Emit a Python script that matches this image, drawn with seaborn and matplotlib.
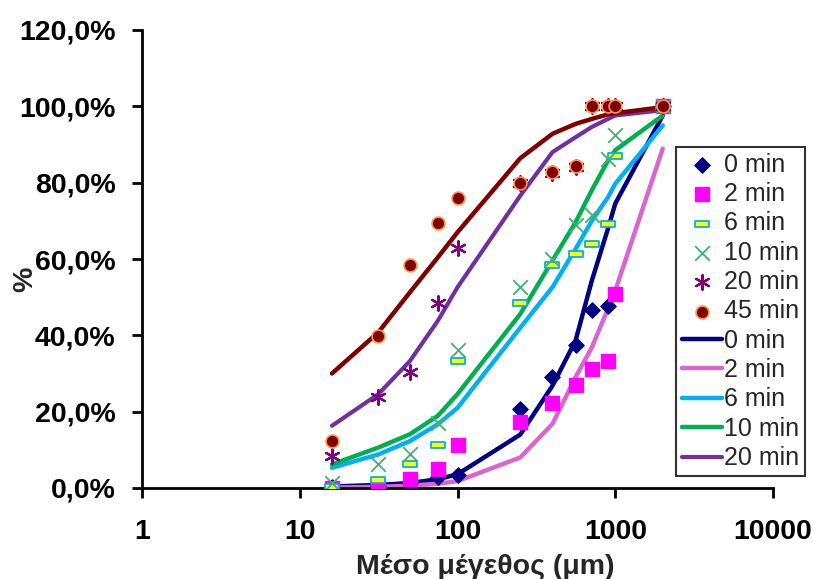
import numpy as np
import pandas as pd
import matplotlib
matplotlib.use("Agg")
import matplotlib.pyplot as plt
from matplotlib.path import Path
from matplotlib.ticker import FuncFormatter, NullLocator
import seaborn as sns

# ---- data ----
size_um = [16, 31.5, 50, 75, 100, 250, 400, 560, 710, 900, 1000, 2000]

# measured points (%)
pts_0min = [0.3, 0.6, 1.2, 2.8, 3.5, 20.7, 29.1, 37.5, 46.7, 47.8, np.nan, 100.0]
pts_2min = [0.1, 0.5, 2.4, 4.9, 11.2, 17.4, 22.2, 27.1, 31.3, 33.3, 50.8, 100.0]
pts_6min = [0.3, 2.1, 6.2, 11.3, 33.2, 48.6, 58.3, 61.3, 64.0, 69.2, 86.9, 100.0]
pts_10min = [1.4, 6.2, 9.0, 17.1, 36.1, 52.6, 60.0, 68.8, 71.4, 86.3, 92.6, 100.0]
pts_20min = [8.4, 23.9, 30.3, 48.6, 62.9, 80.0, 82.5, 84.0, 100.0, 100.0, 100.0, 100.0]
pts_45min = [12.2, 39.9, 58.5, 69.5, 76.0, 80.0, 82.8, 84.3, 100.0, 100.0, 100.0, 100.0]

# model curves (%)
fit_0min = [0.4, 0.8, 1.3, 2.3, 3.6, 14.0, 26.8, 38.6, 54.3, 68.0, 74.5, 97.6]
fit_2min = [0.1, 0.3, 0.6, 1.1, 1.8, 8.0, 16.8, 29.0, 36.8, 47.0, 51.7, 88.9]
fit_6min = [5.3, 8.8, 12.3, 16.7, 21.0, 42.0, 52.6, 62.6, 70.0, 76.2, 79.7, 95.0]
fit_10min = [6.2, 10.6, 14.1, 18.9, 24.6, 45.6, 59.6, 69.6, 78.0, 85.8, 88.5, 97.6]
fit_20min = [16.3, 24.6, 33.3, 43.8, 52.6, 76.6, 88.0, 91.9, 94.6, 96.7, 97.6, 99.0]
fit_45min = [30.0, 40.8, 51.3, 60.4, 67.0, 86.4, 92.8, 95.4, 96.7, 97.9, 98.2, 99.8]

x_ticks = [1, 10, 100, 1000, 10000]
x_tick_labels = ["1", "10", "100", "1000", "10000"]
y_ticks = [0, 20, 40, 60, 80, 100, 120]

x_title = "Μέσο μέγεθος (μm)"
y_title = "%"

# ---- style ----
sns.set_theme(style="white")
plt.rcParams["font.family"] = ["Liberation Sans", "DejaVu Sans"]

W, H = 813, 579
fig = plt.figure(figsize=(W / 100, H / 100), dpi=100)
ax_l, ax_r, ax_t, ax_b = 142, 773, 30, 488
ax = fig.add_axes([ax_l / W, 1 - ax_b / H, (ax_r - ax_l) / W, (ax_b - ax_t) / H])

dash_marker = Path([(-1, -0.38), (1, -0.38), (1, 0.38), (-1, 0.38), (-1, -0.38)],
                   [Path.MOVETO, Path.LINETO, Path.LINETO, Path.LINETO, Path.CLOSEPOLY])

# lines
line_specs = [
    (fit_0min, "#000080", 3.2, "0 min"),
    (fit_2min, "#D966D0", 3.2, "2 min"),
    (fit_6min, "#00B0F0", 3.2, "6 min"),
    (fit_10min, "#00B050", 3.2, "10 min"),
    (fit_20min, "#7030A0", 3.0, "20 min"),
    (fit_45min, "#800000", 3.2, "_45 min"),
]
for vals, col, lw, lab in line_specs:
    df = pd.DataFrame({"x": size_um, "y": vals})
    sns.lineplot(data=df, x="x", y="y", color=col, linewidth=lw, ax=ax,
                 label=lab, zorder=2)

# points
pt_specs = [
    (pts_0min, "D", "#000080", "#000080", 60, 1.0, "0 min"),
    (pts_2min, "s", "#FF00FF", "#FF00FF", 110, 1.0, "2 min"),
    (pts_6min, dash_marker, "#FFFF00", "#00B0F0", 110, 1.3, "6 min"),
    (pts_10min, "x", "#3CB371", "#3CB371", 110, 1.3, "10 min"),
    (pts_20min, (6, 2, 0), "#800080", "#800080", 110, 1.6, "20 min"),
    (pts_45min, "o", "#800000", "#F79646", 85, 1.2, "45 min"),
]
for vals, mk, fc, ec, s, lw, lab in pt_specs:
    df = pd.DataFrame({"x": size_um, "y": vals}).dropna()
    sns.scatterplot(data=df, x="x", y="y", marker=mk, s=s, color=fc,
                    edgecolor=ec, linewidth=lw, ax=ax, label=lab, zorder=3)

ax.set_xscale("log")
ax.set_xlim(1, 10000)
ax.set_ylim(0, 120)
ax.set_xticks(x_ticks)
ax.set_xticklabels(x_tick_labels)
ax.xaxis.set_minor_locator(NullLocator())
ax.set_yticks(y_ticks)
ax.yaxis.set_major_formatter(FuncFormatter(lambda v, p: f"{v:.1f}%".replace(".", ",")))

for side in ["top", "right"]:
    ax.spines[side].set_visible(False)
for side in ["left", "bottom"]:
    ax.spines[side].set_color("black")
    ax.spines[side].set_linewidth(2.0)

ax.tick_params(axis="both", which="major", direction="out", length=7, width=2,
               color="black", labelsize=20.5, labelcolor="black", bottom=True, left=True)
ax.tick_params(axis="x", pad=15)
ax.tick_params(axis="y", pad=12)
for t in ax.get_xticklabels() + ax.get_yticklabels():
    t.set_fontweight("bold")

ax.set_xlabel(x_title, fontsize=20.5, fontweight="bold", va="center")
ax.set_ylabel(y_title, fontsize=20.5, fontweight="bold", va="center")
ax_w, ax_h = ax_r - ax_l, ax_b - ax_t
ax.xaxis.set_label_coords((485 - ax_l) / ax_w, (ax_b - 567) / ax_h)
ax.yaxis.set_label_coords((25 - ax_l) / ax_w, (ax_b - 279) / ax_h)
ax.grid(False)

# legend: points first, then lines
handles, labels = ax.get_legend_handles_labels()
line_h = [(h, l) for h, l in zip(handles, labels)
          if isinstance(h, matplotlib.lines.Line2D) and h.get_marker() in (None, "None", "")]
pt_h = [(h, l) for h, l in zip(handles, labels) if (h, l) not in line_h]
ordered = pt_h + line_h
leg = fig.legend([h for h, l in ordered], [l for h, l in ordered],
                 loc="upper left", bbox_to_anchor=(676 / W, 1 - 147 / H),
                 frameon=True, fancybox=False, edgecolor="black", fontsize=18,
                 handlelength=1.6, handletextpad=0.12, labelspacing=0.215,
                 borderpad=0.22, borderaxespad=0.0)
leg.get_frame().set_linewidth(1.5)
if ax.get_legend() is not None:
    ax.get_legend().remove()

fig.savefig("out.png", dpi=100, facecolor="white")
